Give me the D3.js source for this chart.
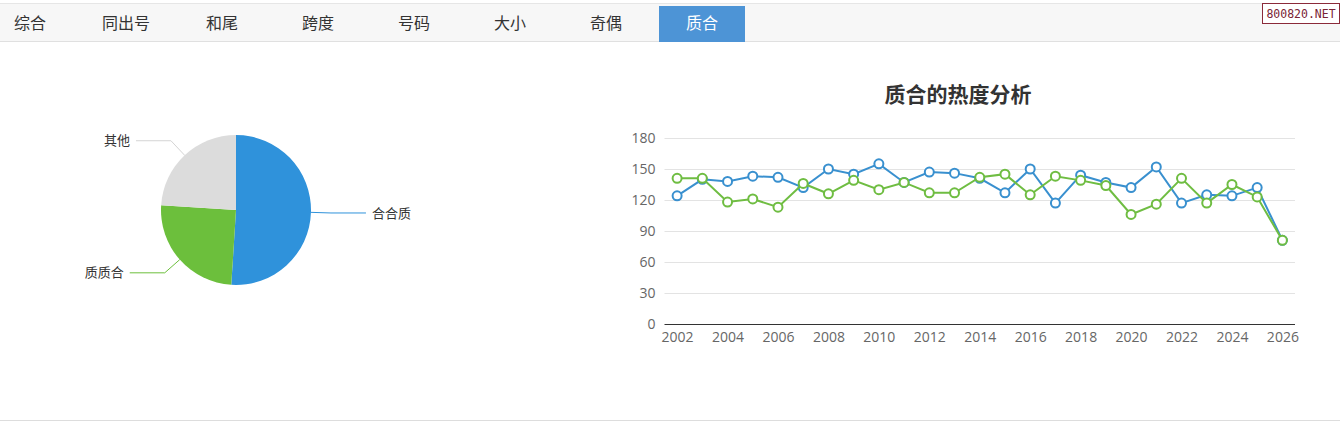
<!DOCTYPE html>
<html>
<head>
<meta charset="utf-8">
<script src="https://cdn.jsdelivr.net/npm/d3@7/dist/d3.min.js"></script>
<style>
  html, body { margin: 0; padding: 0; background: #fff; }
  #chart { width: 1340px; height: 423px; }
</style>
</head>
<body>
<div id="chart"></div>
<script>
// datos
const pestañas = ["综合", "同出号", "和尾", "跨度", "号码", "大小", "奇偶", "质合"];
const pestañaActiva = "质合";

const tartaNombres = ["合合质", "质质合", "其他"];
const tartaValores = [51, 25, 24];
const tartaColores = ["#2f92db", "#6cbf3c", "#dcdcdc"];

const años = d3.range(2002, 2027).map(String);
const serieAzul = [124, 140, 138, 143, 142, 132, 150, 145, 155, 137, 147, 146,
  141, 127, 150, 117, 144, 137, 132, 152, 117, 125, 124, 132, 81];
const serieVerde = [141, 141, 118, 121, 113, 136, 126, 139, 130, 137, 127, 127,
  142, 145, 125, 143, 139, 134, 106, 116, 141, 117, 135, 123, 81];
const ticksY = [0, 30, 60, 90, 120, 150, 180];
const tituloLinea = "质合的热度分析";

const fuente = "'Noto Sans CJK SC', 'Noto Sans', sans-serif";
const fuenteNum = "'Open Sans', 'Noto Sans', sans-serif";
const width = 1340;
const height = 423;

const svg = d3.select("#chart")
  .append("svg")
  .attr("width", width)
  .attr("height", height)
  .attr("viewBox", `0 0 ${width} ${height}`)
  .style("font-family", fuente);

// barra de pestañas
svg.append("rect")
  .attr("x", 0).attr("y", 3)
  .attr("width", width).attr("height", 38)
  .attr("fill", "#f7f7f7");
svg.append("line")
  .attr("x1", 0).attr("x2", width).attr("y1", 3.5).attr("y2", 3.5)
  .attr("stroke", "#e6e6e6");
svg.append("line")
  .attr("x1", 0).attr("x2", width).attr("y1", 41.5).attr("y2", 41.5)
  .attr("stroke", "#e0e0e0");

const xTab = d3.scaleBand()
  .domain(pestañas)
  .range([-13, 745])
  .paddingInner(10 / 96)
  .paddingOuter(0);

const tabs = svg.append("g")
  .selectAll("g")
  .data(pestañas)
  .join("g")
  .attr("transform", (d) => `translate(${xTab(d)},0)`);

tabs.filter((d) => d === pestañaActiva)
  .append("rect")
  .attr("y", 6)
  .attr("width", xTab.bandwidth())
  .attr("height", 36)
  .attr("fill", "#4d94d6");

tabs.append("text")
  .attr("x", xTab.bandwidth() / 2)
  .attr("y", 23)
  .attr("dy", "0.35em")
  .attr("text-anchor", "middle")
  .attr("font-size", 16)
  .attr("fill", (d) => (d === pestañaActiva ? "#ffffff" : "#333333"))
  .text((d) => d);

// marca de agua
const marca = svg.append("g").attr("transform", "translate(1262,3)");
marca.append("rect")
  .attr("x", 0.5).attr("y", 0.5)
  .attr("width", 77).attr("height", 20)
  .attr("fill", "#ffffff")
  .attr("stroke", "#8b2a3a");
marca.append("text")
  .attr("x", 39).attr("y", 11)
  .attr("dy", "0.35em")
  .attr("text-anchor", "middle")
  .attr("font-family", "'DejaVu Sans Mono', monospace")
  .attr("font-size", 11.5)
  .attr("fill", "#7a2436")
  .text("800820.NET");

// línea inferior
svg.append("line")
  .attr("x1", 0).attr("x2", width).attr("y1", 420.5).attr("y2", 420.5)
  .attr("stroke", "#dddddd");

// tarta
const cx = 236, cy = 210, radio = 75;
const tarta = d3.pie().sort(null).value((d) => d.valor);
const datosTarta = tarta(tartaNombres.map((n, i) => ({
  nombre: n, valor: tartaValores[i], color: tartaColores[i],
})));
const arco = d3.arc().innerRadius(0).outerRadius(radio);

const gTarta = svg.append("g").attr("transform", `translate(${cx},${cy})`);

gTarta.selectAll("path")
  .data(datosTarta)
  .join("path")
  .attr("d", arco)
  .attr("fill", (d) => d.data.color);

function puntoPolar(a, r) {
  return [Math.sin(a) * r, -Math.cos(a) * r];
}

const largo1 = 20, largo2 = 35;
datosTarta.forEach((d) => {
  const medio = (d.startAngle + d.endAngle) / 2;
  const p0 = puntoPolar(medio, radio);
  const p1 = puntoPolar(medio, radio + largo1);
  const lado = p1[0] >= 0 ? 1 : -1;
  const p2 = [p1[0] + lado * largo2, p1[1]];
  gTarta.append("polyline")
    .attr("points", [p0, p1, p2].map((p) => p.join(",")).join(" "))
    .attr("fill", "none")
    .attr("stroke", d.data.color === "#dcdcdc" ? "#d4d4d4" : d.data.color)
    .attr("stroke-width", 1);
  gTarta.append("text")
    .attr("x", p2[0] + lado * 6)
    .attr("y", p2[1])
    .attr("dy", "0.35em")
    .attr("text-anchor", lado > 0 ? "start" : "end")
    .attr("font-size", 13)
    .attr("fill", "#333333")
    .text(d.data.nombre);
});

// gráfico de líneas
const x = d3.scalePoint()
  .domain(años)
  .range([664.5, 1295])
  .padding(0.5);
const y = d3.scaleLinear().domain([0, 180]).range([324, 138]);

const gLinea = svg.append("g");

gLinea.append("text")
  .attr("x", 958)
  .attr("y", 95)
  .attr("dy", "0.35em")
  .attr("text-anchor", "middle")
  .attr("font-size", 21)
  .attr("font-weight", "bold")
  .attr("fill", "#333333")
  .text(tituloLinea);

// rejilla
gLinea.append("g")
  .selectAll("line")
  .data(ticksY.filter((t) => t > 0))
  .join("line")
  .attr("x1", 664.5).attr("x2", 1295)
  .attr("y1", (d) => Math.round(y(d)) + 0.5)
  .attr("y2", (d) => Math.round(y(d)) + 0.5)
  .attr("stroke", "#e3e3e3");

const ejeY = d3.axisLeft(y).tickValues(ticksY).tickSize(0).tickPadding(9);
gLinea.append("g")
  .attr("transform", "translate(664.5,0)")
  .call(ejeY)
  .call((g) => g.select(".domain").remove())
  .selectAll("text")
  .attr("font-family", fuenteNum)
  .attr("font-size", 14)
  .attr("fill", "#666666");

const ejeX = d3.axisBottom(x)
  .tickValues(años.filter((d, i) => i % 2 === 0))
  .tickSize(0)
  .tickPadding(8);
gLinea.append("g")
  .attr("transform", `translate(0,${Math.round(y(0)) + 0.5})`)
  .call(ejeX)
  .call((g) => g.select(".domain")
    .attr("d", "M664.5,0H1295")
    .attr("stroke", "#333333"))
  .selectAll("text")
  .attr("font-family", fuenteNum)
  .attr("font-size", 14)
  .attr("fill", "#666666");

const series = [
  { valores: serieAzul, color: "#3990cf" },
  { valores: serieVerde, color: "#6fbd42" },
];

const linea = d3.line()
  .x((d, i) => x(años[i]))
  .y((d) => y(d));

series.forEach((s) => {
  const gs = gLinea.append("g");
  gs.append("path")
    .attr("d", linea(s.valores))
    .attr("fill", "none")
    .attr("stroke", s.color)
    .attr("stroke-width", 2);
  gs.selectAll("circle")
    .data(s.valores)
    .join("circle")
    .attr("cx", (d, i) => x(años[i]))
    .attr("cy", (d) => y(d))
    .attr("r", 4.5)
    .attr("fill", "#ffffff")
    .attr("stroke", s.color)
    .attr("stroke-width", 2);
});
</script>
</body>
</html>
